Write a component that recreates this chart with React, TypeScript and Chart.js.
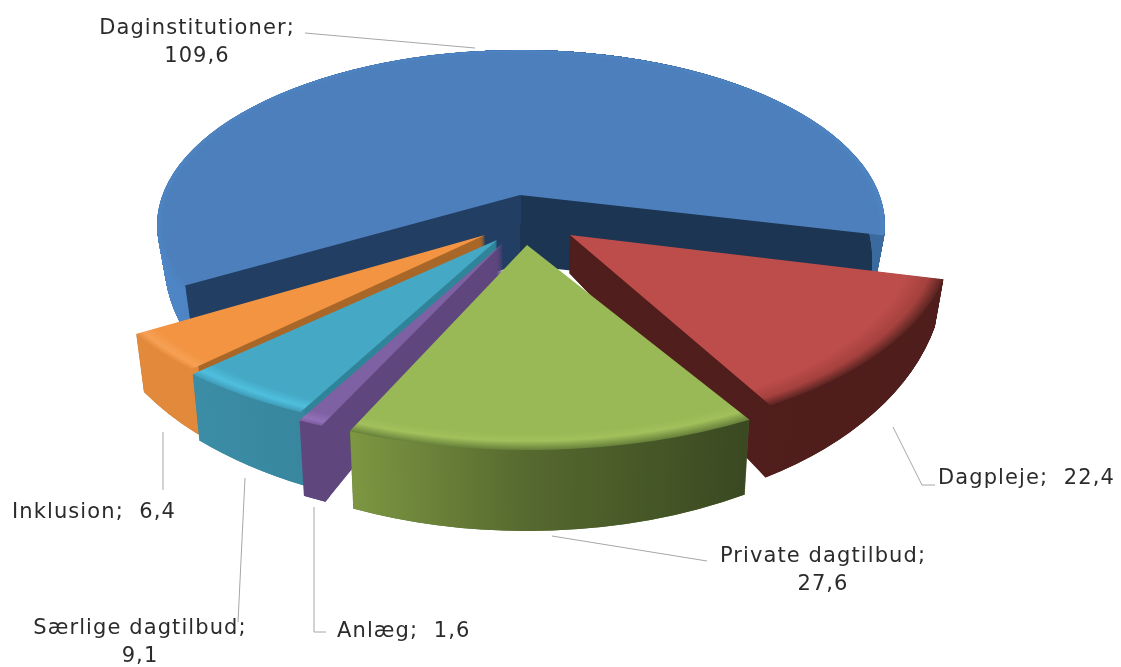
import React, { useEffect, useRef } from "react";
import { Chart, registerables } from "chart.js";

Chart.register(...registerables);

const categories = ["Daginstitutioner", "Dagpleje", "Private dagtilbud", "Anlæg", "Særlige dagtilbud", "Inklusion"];
const values = [109.6, 22.4, 27.6, 1.6, 9.1, 6.4];
const valueLabels = ["109,6", "22,4", "27,6", "1,6", "9,1", "6,4"];

const ROTATION = 239.5;
const FONT = '21px "DejaVu Sans"';
// draw order, back to front
const drawOrder = [0, 1, 5, 4, 3, 2];
// placement of each exploded slice in the picture: centre x, centre y, radius x, radius y
const placement = [
  [521, 225, 364, 175],
  [570, 235, 383, 200],
  [527, 245, 425, 205],
  [503, 243, 435, 201],
  [497, 240, 420, 195],
  [485, 235, 405, 195],
];
// the large slice has its apex above its ellipse centre (perspective): its wedge is trimmed to these rays
const bigApex = [520, 195];
const bigRays = [[360, 40], [-333, 90]];
const rimWidth = [0.985, 0.975, 0.975, 0.975, 0.975, 0.975];
type Stop = [number, string];
const topStops: Stop[][] = [
  [[0, "#4c7fbb"], [0.98, "#4c7fbb"], [0.995, "#4e84c2"], [1, "#4a80c0"]],
  [[0, "#bd4d4a"], [0.9, "#bd4d4a"], [0.96, "#a5413e"], [1, "#5a2421"]],
  [[0, "#99b957"], [0.92, "#99b957"], [0.955, "#a2c15c"], [1, "#66803a"]],
  [[0, "#7e61a2"], [0.94, "#7e61a2"], [0.98, "#9270b8"], [1, "#7b5c9e"]],
  [[0, "#45a9c6"], [0.93, "#45a9c6"], [0.97, "#4fbfde"], [1, "#3f9cb8"]],
  [[0, "#f29441"], [0.94, "#f29441"], [0.98, "#f6a055"], [1, "#e68c3c"]],
];
const rimStops: Stop[][] = [
  [[0, "#4f86c6"], [0.5, "#3e6ca3"], [1, "#3a6a9e"]],
  [[0, "#531f1d"], [1, "#4f1d1b"]],
  [[0.29, "#7d9742"], [0.5, "#56692f"], [0.76, "#3a4921"]],
  [[0, "#5f477e"], [1, "#5f477e"]],
  [[0, "#3f93ad"], [0.3, "#37859d"], [1, "#37859d"]],
  [[0, "#e38a3c"], [1, "#d8843a"]],
];
const cutColors = ["#223f63", "#501e1c", "#566c30", "#5f477e", "#2f8499", "#a9682a"];
const bigCutRight = "#1b3553";

const labelRows: [string[], number, number, CanvasTextAlign][] = [
  [[`${categories[0]};`, valueLabels[0]], 197, 34, "center"],
  [[`${categories[1]};  ${valueLabels[1]}`], 938, 484, "left"],
  [[`${categories[2]};`, valueLabels[2]], 823, 562, "center"],
  [[`${categories[3]};  ${valueLabels[3]}`], 337, 637, "left"],
  [[`${categories[4]};`, valueLabels[4]], 140, 634, "center"],
  [[`${categories[5]};  ${valueLabels[5]}`], 12, 518, "left"],
];
const leaderLines: number[][][] = [
  [[305, 33], [475, 48]],
  [[893, 427], [922, 485], [935, 485]],
  [[552, 536], [707, 561]],
  [[314, 507], [314, 632], [326, 632]],
  [[245, 478], [238, 622]],
  [[163, 432], [163, 490]],
];

const pie3d = {
  id: "pie3d",
  beforeDatasetsDraw(chart: any) {
    const ctx: CanvasRenderingContext2D = chart.ctx;
    const arcs = chart.getDatasetMeta(0).data;
    const LAYERS = 90;
    const layer = (t: number) => {
      ctx.translate(520, 45);
      ctx.scale(1 - 0.02 * t, 1 + 0.2 * t);
      ctx.translate(-520, -45);
    };
    const trim = (i: number) => {
      if (i !== 0) return;
      const [ax, ay] = bigApex;
      const [[rx1, ry1], [rx2, ry2]] = bigRays;
      ctx.beginPath();
      ctx.moveTo(ax, ay);
      ctx.lineTo(ax + rx1 * 3, ay + ry1 * 3);
      ctx.lineTo(2000, -500);
      ctx.lineTo(-1000, -500);
      ctx.lineTo(ax + rx2 * 3, ay + ry2 * 3);
      ctx.closePath();
      ctx.clip();
    };
    const place = (arc: any, i: number) => {
      const [cx, cy, rx, ry] = placement[i];
      const R = arc.outerRadius;
      ctx.translate(cx, cy);
      ctx.scale(rx / R, ry / R);
      ctx.translate(-arc.x, -arc.y);
    };
    const paint = (arc: any, fill: any) => {
      const o = arc.options;
      arc.options = { ...o, backgroundColor: fill, borderWidth: 0 };
      arc.draw(ctx);
      arc.options = o;
    };
    for (const i of drawOrder) {
      const arc = arcs[i];
      const R = arc.outerRadius;
      let cut: any = cutColors[i];
      if (i === 0) {
        cut = ctx.createLinearGradient(arc.x - R, 0, arc.x + R, 0);
        cut.addColorStop(0, cutColors[0]);
        cut.addColorStop(0.5, cutColors[0]);
        cut.addColorStop(0.5, bigCutRight);
        cut.addColorStop(1, bigCutRight);
        // the deep inner corner of the large slice
        for (let k = 70; k >= 0; k -= 1) {
          ctx.save();
          ctx.translate(bigApex[0], bigApex[1] + k);
          ctx.scale(300 / R, 143 / R);
          ctx.translate(-arc.x, -arc.y);
          paint(arc, cut);
          ctx.restore();
        }
      }
      // cut faces
      for (let k = LAYERS; k > 0; k--) {
        ctx.save();
        layer(k / LAYERS);
        trim(i);
        place(arc, i);
        paint(arc, cut);
        ctx.restore();
      }
      // outer rim
      const rim = ctx.createLinearGradient(arc.x - R, 0, arc.x + R, 0);
      rimStops[i].forEach(([p, c]) => rim.addColorStop(p, c));
      const inner = arc.innerRadius;
      arc.innerRadius = R * rimWidth[i];
      for (let k = LAYERS; k > 0; k--) {
        ctx.save();
        layer(k / LAYERS);
        trim(i);
        place(arc, i);
        paint(arc, rim);
        ctx.restore();
      }
      arc.innerRadius = inner;
      // top face
      ctx.save();
      trim(i);
      place(arc, i);
      const top = ctx.createRadialGradient(arc.x, arc.y, 0, arc.x, arc.y, R);
      topStops[i].forEach(([p, c]) => top.addColorStop(p, c));
      paint(arc, top);
      ctx.restore();
    }
    return false;
  },
  afterDraw(chart: any) {
    const ctx: CanvasRenderingContext2D = chart.ctx;
    ctx.save();
    ctx.strokeStyle = "#a6a6a6";
    ctx.lineWidth = 1;
    for (const line of leaderLines) {
      ctx.beginPath();
      line.forEach(([x, y], n) => (n ? ctx.lineTo(x, y) : ctx.moveTo(x, y)));
      ctx.stroke();
    }
    ctx.fillStyle = "#2b2b2b";
    ctx.font = FONT;
    (ctx as any).letterSpacing = "1.1px";
    for (const [rows, x, y, align] of labelRows) {
      ctx.textAlign = align;
      rows.forEach((r, n) => ctx.fillText(r, x, y + n * 28));
    }
    ctx.restore();
  },
};

export default function App() {
  const ref = useRef<HTMLCanvasElement>(null);
  useEffect(() => {
    document.body.style.margin = "0";
    document.body.style.background = "#fff";
    const chart = new Chart(ref.current!, {
      type: "pie",
      data: {
        labels: categories,
        datasets: [{ data: values, backgroundColor: ["#4c7fbb", "#bd4d4a", "#99b957", "#7e61a2", "#45a9c6", "#f29441"], borderWidth: 0 }],
      },
      options: {
        responsive: false,
        animation: false,
        rotation: ROTATION,
        plugins: { legend: { display: false }, tooltip: { enabled: false } },
      },
      plugins: [pie3d],
    } as any);
    return () => chart.destroy();
  }, []);
  return <canvas ref={ref} width={1121} height={667} style={{ display: "block" }} />;
}
